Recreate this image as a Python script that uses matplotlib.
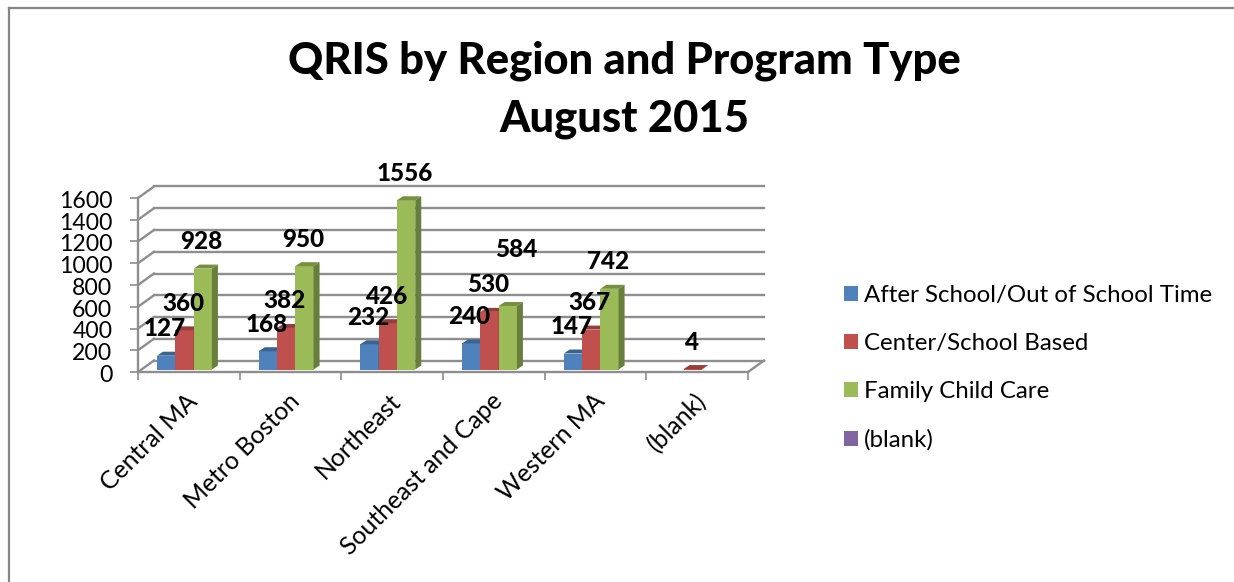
import matplotlib
matplotlib.use('Agg')
import matplotlib.pyplot as plt
from matplotlib.patches import Patch
from matplotlib.lines import Line2D
from matplotlib.transforms import ScaledTranslation

regions = ['Central MA', 'Metro Boston', 'Northeast', 'Southeast and Cape', 'Western MA', '(blank)']
after_school = [127, 168, 232, 240, 147, 0]
center_based = [360, 382, 426, 530, 367, 4]
family_care = [928, 950, 1556, 584, 742, 0]
blank_series = [0, 0, 0, 0, 0, 0]
series_names = ['After School/Out of School Time', 'Center/School Based', 'Family Child Care', '(blank)']
y_ticks = [0, 200, 400, 600, 800, 1000, 1200, 1400, 1600]

series = [after_school, center_based, family_care, blank_series]
front_colors = ['#4F81BD', '#C0504D', '#9BBB59', '#8064A2']
top_colors = ['#3B6390', '#963E3B', '#76903F', '#604A7B']
side_colors = ['#385D8A', '#8C3A38', '#677E3C', '#5A4572']

W, H = 1234, 582
plt.rcParams['font.family'] = ['Lato', 'DejaVu Sans']
fig = plt.figure(figsize=(W / 100, H / 100), dpi=100)
ax = fig.add_axes([138 / W, 1 - 372 / H, 610 / W, 174 / H])
ax.set_xlim(0, 6)
ax.set_ylim(0, 1600)
ax.patch.set_visible(False)

# one pixel in data units, the fake 3d is all offsets in pixels
px = 6 / 610
py = 1600 / 174
grid_col = '#8E8E8E'
grid_lw = 1.7
wall_x, wall_y = 16 * px, 11.5 * py

for s in ['top', 'right']:
    ax.spines[s].set_visible(False)
for s in ['left', 'bottom']:
    ax.spines[s].set_color(grid_col)
    ax.spines[s].set_linewidth(grid_lw)

# back wall grid, left wall and floor
for v in y_ticks:
    ax.plot([0, wall_x], [v, v + wall_y], color=grid_col, lw=grid_lw, clip_on=False, zorder=1)
    ax.plot([wall_x, 6 + wall_x], [v + wall_y, v + wall_y], color=grid_col, lw=grid_lw, clip_on=False, zorder=1)
ax.plot([6, 6 + wall_x], [0, wall_y], color=grid_col, lw=grid_lw, clip_on=False, zorder=1)

bar_w = 18.3 * px
start = 0.187
base = 2.5 * py
depth_x, depth_y = 6 * px, 4 * py
label_gap = 27 * py
# the 584 label was dragged away from its bar in the original
label_shift = {584: (10 * px, 29 * py)}

for k, vals in enumerate(series):
    for i, v in enumerate(vals):
        if v == 0:
            continue
        x0 = i + start + k * bar_w
        x1 = x0 + bar_w
        top = base + v
        ax.bar(x0, v, width=bar_w, bottom=base, align='edge', color=front_colors[k], clip_on=False, zorder=3 + k)
        ax.fill([x0, x1, x1 + depth_x, x0 + depth_x], [top, top, top + depth_y, top + depth_y],
                color=top_colors[k], lw=0, clip_on=False, zorder=3 + k)
        ax.fill([x1, x1 + depth_x, x1 + depth_x, x1], [base, base + depth_y, top + depth_y, top],
                color=side_colors[k], lw=0, clip_on=False, zorder=3 + k)
        sx, sy = label_shift.get(v, (0, 0))
        ax.text((x0 + x1) / 2 + sx - 1.5 * px, top + label_gap + sy, str(v), ha='center', va='center',
                fontsize=17.5, fontweight=900, color='black', zorder=10, clip_on=False)

ax.set_yticks(y_ticks)
ax.set_yticklabels([str(v) for v in y_ticks], fontsize=16.6)
ax.tick_params(axis='y', length=5.5, width=1.2, color=grid_col, pad=13)
for lab in ax.get_yticklabels():
    lab.set_transform(lab.get_transform() + ScaledTranslation(0, -1.5 / 100, fig.dpi_scale_trans))
ax.set_xticks(range(7))
ax.set_xticklabels([])
ax.tick_params(axis='x', which='major', length=5.5, width=1.2, color=grid_col)
ax.set_xticks([i + 0.5 for i in range(6)], minor=True)
ax.set_xticklabels(regions, minor=True, rotation=45, ha='right', va='top', rotation_mode='anchor', fontsize=17.8)
ax.tick_params(axis='x', which='minor', length=0, pad=12.5)
for lab in ax.get_xminorticklabels():
    lab.set_transform(lab.get_transform() + ScaledTranslation(-3 / 100, 0, fig.dpi_scale_trans))

fig.text(624 / W, 1 - 61 / H, 'QRIS by Region and Program Type', ha='center', va='center', fontsize=31.3, fontweight=900)
fig.text(624 / W, 1 - 119 / H, 'August 2015', ha='center', va='center', fontsize=31.3, fontweight=900)

handles = [Patch(facecolor=c, edgecolor='none') for c in front_colors]
leg = fig.legend(handles, series_names, loc='center left', bbox_to_anchor=(844 / W, 1 - 368 / H),
                 frameon=False, fontsize=17.3, handlelength=0.58, handleheight=0.58, handletextpad=0.25,
                 labelspacing=1.125, borderpad=0, borderaxespad=0)

# chart frame, only left and top are inside the picture
fig.add_artist(Line2D([9 / W, 9 / W], [0, 1 - 8 / H], color='#868686', lw=1.6))
fig.add_artist(Line2D([9 / W, 1], [1 - 8 / H, 1 - 8 / H], color='#868686', lw=1.6))

fig.savefig('out.png', dpi=100)
